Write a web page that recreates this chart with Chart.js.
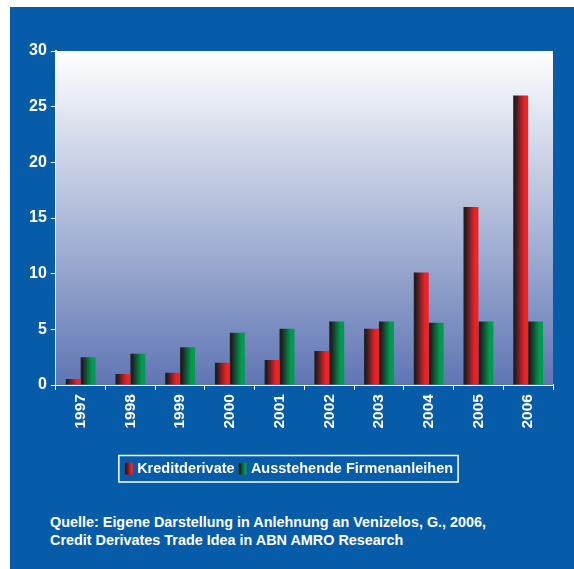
<!DOCTYPE html>
<html>
<head>
<meta charset="utf-8">
<script src="https://cdn.jsdelivr.net/npm/chart.js@4"></script>
<style>
body { margin:0; background:#fff; width:574px; height:569px; overflow:hidden; }
#panel { position:absolute; left:10px; top:7px; width:564px; height:562px; background:#075ca9; }
#box { position:absolute; left:0; top:0; width:564px; height:490px; }
#source { position:absolute; left:40px; top:506px; color:#fff; font:bold 14.4px "Liberation Sans", Arial, sans-serif; line-height:18px; }
</style>
</head>
<body>
<div id="panel">
  <div id="box"><canvas id="myChart"></canvas></div>
  <div id="source">Quelle: Eigene Darstellung in Anlehnung an Venizelos, G., 2006,<br>Credit Derivates Trade Idea in ABN AMRO Research</div>
</div>
<script>
const years = ['1997','1998','1999','2000','2001','2002','2003','2004','2005','2006'];
const kredit = [0.55, 1.0, 1.1, 2.0, 2.25, 3.05, 5.05, 10.1, 16.0, 26.0];
const anleihen = [2.5, 2.8, 3.4, 4.7, 5.05, 5.7, 5.7, 5.6, 5.7, 5.7];
const yTicks = [0, 5, 10, 15, 20, 25, 30];

const RED = '#ec2227';
const GREEN = '#009b4e';
const DARK = '#1f1d1f';
const catPct = 0.6;
const SWATCH = 8;

function barFill(ctx, bright) {
  const chart = ctx.chart;
  if (ctx.type !== 'data' || !chart.chartArea) return bright;
  const xs = chart.scales.x;
  const center = xs.getPixelForValue(ctx.dataIndex);
  const w = xs.width / years.length * catPct / 2;
  const left = ctx.datasetIndex === 0 ? center - w : center;
  const g = chart.ctx.createLinearGradient(left, 0, left + w, 0);
  g.addColorStop(0, DARK);
  g.addColorStop(0.12, DARK);
  g.addColorStop(0.75, bright);
  g.addColorStop(1, bright);
  return g;
}

// plot background + legend frame
const decor = {
  id: 'decor',
  beforeDatasetsDraw(chart) {
    const a = chart.chartArea, c = chart.ctx;
    const g = c.createLinearGradient(0, a.top, 0, a.bottom);
    g.addColorStop(0, '#ffffff');
    g.addColorStop(1, '#5f76b4');
    c.save();
    c.fillStyle = g;
    c.fillRect(a.left, a.top, a.right - a.left, a.bottom - a.top);
    c.restore();
  },
  afterDraw(chart) {
    const lg = chart.legend, c = chart.ctx;
    const hb = lg.legendHitBoxes;
    if (!hb || !hb.length) return;
    let l = Infinity, r = -Infinity, t = Infinity, b = -Infinity;
    c.save();
    hb.forEach((h, i) => {
      l = Math.min(l, h.left); r = Math.max(r, h.left + h.width);
      t = Math.min(t, h.top); b = Math.max(b, h.top + h.height);
      // gradient swatch over the plain one
      const bh = lg.options.labels.boxHeight;
      const y = h.top + (h.height - bh) / 2;
      const g = c.createLinearGradient(h.left, 0, h.left + SWATCH, 0);
      g.addColorStop(0, DARK);
      g.addColorStop(0.15, DARK);
      g.addColorStop(0.8, i === 0 ? RED : GREEN);
      g.addColorStop(1, i === 0 ? RED : GREEN);
      c.fillStyle = g;
      c.fillRect(h.left, y, SWATCH, bh);
    });
    c.strokeStyle = '#ffffff';
    c.lineWidth = 1.5;
    c.strokeRect(l - 6, t - 6, r - l + 11, b - t + 12);
    c.restore();
  }
};

const ctx = document.getElementById('myChart').getContext('2d');
const chart = new Chart(ctx, {
  type: 'bar',
  data: {
    labels: years,
    datasets: [
      { label: 'Kreditderivate', data: kredit, backgroundColor: (c) => barFill(c, RED), borderWidth: 0 },
      { label: 'Ausstehende Firmenanleihen', data: anleihen, backgroundColor: (c) => barFill(c, GREEN), borderWidth: 0 }
    ]
  },
  options: {
    responsive: true,
    maintainAspectRatio: false,
    animation: false,
    categoryPercentage: catPct,
    barPercentage: 1.0,
    layout: { padding: { left: 15, right: 21, top: 44, bottom: 11 } },
    plugins: {
      tooltip: { enabled: false },
      legend: {
        position: 'bottom',
        labels: {
          color: '#ffffff',
          boxWidth: 5,
          boxHeight: 12,
          padding: 4,
          font: { family: 'Liberation Sans', size: 14.5, weight: 'bold' }
        }
      }
    },
    scales: {
      x: {
        afterFit: (s) => { s.height += 25; },
        grid: { display: true, drawOnChartArea: false, color: '#ffffff', tickLength: 5 },
        border: { color: '#ffffff', width: 2 },
        ticks: {
          color: '#ffffff', maxRotation: 90, minRotation: 90, padding: 4,
          font: { family: 'Liberation Sans', size: 15.5, weight: 'bold' }
        }
      },
      y: {
        min: 0, max: 30,
        afterBuildTicks: (s) => { s.ticks = yTicks.map(v => ({ value: v })); },
        grid: { display: true, drawOnChartArea: false, color: '#ffffff', tickLength: 5 },
        border: { color: '#ffffff', width: 2 },
        ticks: {
          color: '#ffffff', padding: 4,
          font: { family: 'Liberation Sans', size: 16, weight: 'bold' }
        }
      }
    }
  },
  plugins: [decor]
});
</script>
</body>
</html>
